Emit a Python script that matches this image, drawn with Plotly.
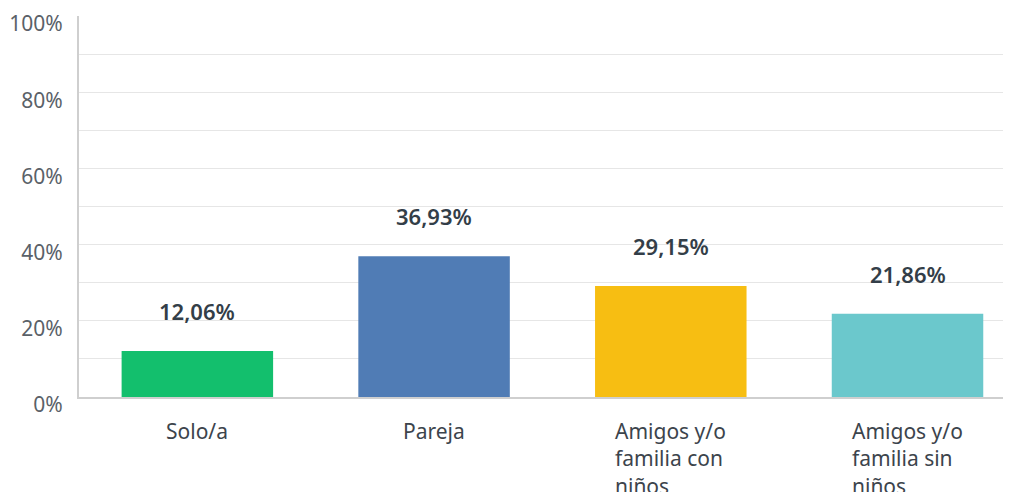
import plotly.graph_objects as go

# data
categories = ["Solo/a", "Pareja", "Amigos y/o familia con niños", "Amigos y/o familia sin niños"]
tick_labels = ["Solo/a", "Pareja", "Amigos y/o<br>familia con<br>niños", "Amigos y/o<br>familia sin<br>niños"]
values = [12.06, 36.93, 29.15, 21.86]
colors = ["#13bf6d", "#507cb5", "#f7be12", "#6bc8cc"]

FONT = "Noto Sans"

fig = go.Figure()
fig.add_trace(
    go.Bar(
        x=categories,
        y=values,
        marker=dict(color=colors, line=dict(width=0)),
        width=0.64,
        hoverinfo="skip",
    )
)

# value labels above bars
for cat, val in zip(categories, values):
    fig.add_annotation(
        x=cat, y=val, yref="y",
        text=f"{val:.2f}%".replace(".", ","),
        showarrow=False, yanchor="bottom", yshift=23,
        font=dict(family=FONT, size=22, color="#333e48", weight=600),
    )

# category labels below the axis (left-aligned lines, centred block)
for cat, lab in zip(categories, tick_labels):
    fig.add_annotation(
        x=cat, y=0, yref="paper",
        text=lab, align="left",
        showarrow=False, yanchor="top", yshift=-18,
        font=dict(family=FONT, size=21, color="#3c444c"),
    )

# page body adds an 8px offset, margins compensate
fig.update_layout(
    width=1011, height=492,
    margin=dict(l=71, r=0, t=8, b=103),
    paper_bgcolor="white", plot_bgcolor="white",
    showlegend=False,
)
fig.update_xaxes(
    range=[-0.5, 3.471], automargin=False,
    showticklabels=False, showgrid=False,
    showline=True, linecolor="#cfcfcf", linewidth=2,
    zeroline=False,
)
fig.update_yaxes(
    range=[0, 100], dtick=20, ticksuffix="%", automargin=False,
    showgrid=True, gridcolor="#e6e6e6", gridwidth=1,
    minor=dict(dtick=10, showgrid=True, gridcolor="#e6e6e6"),
    showline=True, linecolor="#cfcfcf", linewidth=2,
    zeroline=False, ticks="", ticklabelstandoff=10, ticklabelshift=8,
    ticklabeloverflow="allow",
    tickfont=dict(family=FONT, size=21, color="#5a6168"),
)

fig.write_html("out.html")
